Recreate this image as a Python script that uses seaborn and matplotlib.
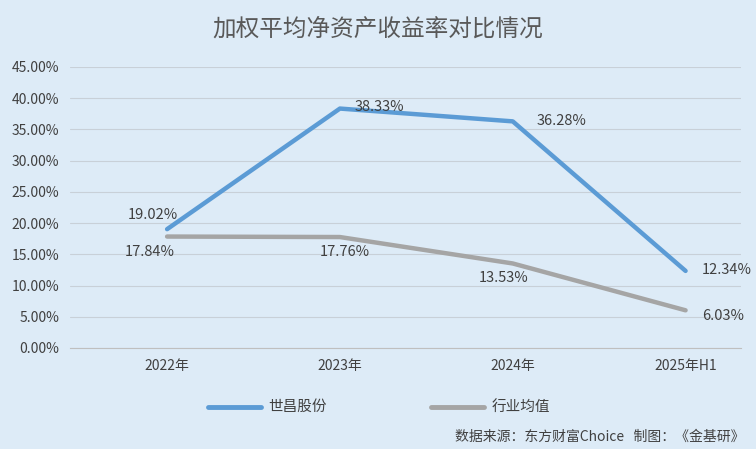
import matplotlib
matplotlib.use("Agg")
import matplotlib.pyplot as plt
import seaborn as sns
import pandas as pd

categories = ["2022年", "2023年", "2024年", "2025年H1"]
shichang = [19.02, 38.33, 36.28, 12.34]
industry = [17.84, 17.76, 13.53, 6.03]
yticks = [0, 5, 10, 15, 20, 25, 30, 35, 40, 45]

sns.set_style("white")
plt.rcParams['font.family'] = ['Noto Sans CJK SC', 'DejaVu Sans']
bg = "#DDEBF7"
fig = plt.figure(figsize=(7.56, 4.49), dpi=100, facecolor=bg)
ax = fig.add_axes([0.093, 0.225, 0.887, 0.626], facecolor=bg)

df = pd.DataFrame({"x": list(range(4)) * 2, "y": shichang + industry,
                   "s": ["世昌股份"] * 4 + ["行业均值"] * 4})
sns.lineplot(data=df, x="x", y="y", hue="s", palette=["#5B9BD5", "#A5A5A5"],
             linewidth=3.2, ax=ax, legend=False)

ax.set_xlim(-0.56, 3.32)
ax.set_ylim(0, 45)
ax.set_yticks(yticks)
ax.set_yticklabels([f"{v:.2f}%" for v in yticks], fontsize=10, color="#404040")
ax.set_xticks(range(4))
ax.set_xticklabels(categories, fontsize=10, color="#404040")
ax.tick_params(length=0, pad=8)
ax.yaxis.grid(True, color="#C8D0D8", linewidth=0.8)
for s in ["top", "right", "left"]:
    ax.spines[s].set_visible(False)
ax.spines["bottom"].set_color("#BFBFBF")
ax.set_xlabel(""); ax.set_ylabel("")

offs_s = [(-0.08, 2.3), (0.23, 0.3), (0.28, 0.1), (0.24, 0.1)]
offs_i = [(-0.1, -2.5), (0.03, -2.4), (-0.05, -2.3), (0.22, -0.9)]
for i, v in enumerate(shichang):
    ax.text(i + offs_s[i][0], v + offs_s[i][1], f"{v:.2f}%", ha="center", va="center",
            fontsize=10.5, color="#404040")
for i, v in enumerate(industry):
    ax.text(i + offs_i[i][0], v + offs_i[i][1], f"{v:.2f}%", ha="center", va="center",
            fontsize=10.5, color="#404040")

fig.text(0.5, 0.935, "加权平均净资产收益率对比情况", ha="center", va="center",
         fontsize=17, color="#595959")
fig.lines.append(plt.Line2D([0.275, 0.345], [0.093, 0.093], color="#5B9BD5", lw=3.5,
                            transform=fig.transFigure))
fig.text(0.355, 0.093, "世昌股份", va="center", fontsize=10.5, color="#404040")
fig.lines.append(plt.Line2D([0.57, 0.64], [0.093, 0.093], color="#A5A5A5", lw=3.5,
                            transform=fig.transFigure))
fig.text(0.65, 0.093, "行业均值", va="center", fontsize=10.5, color="#404040")
fig.text(0.985, 0.027, "数据来源：东方财富Choice   制图：《金基研》", ha="right", va="center",
         fontsize=10, color="#404040")
fig.savefig("out.png", dpi=100, facecolor=bg)
